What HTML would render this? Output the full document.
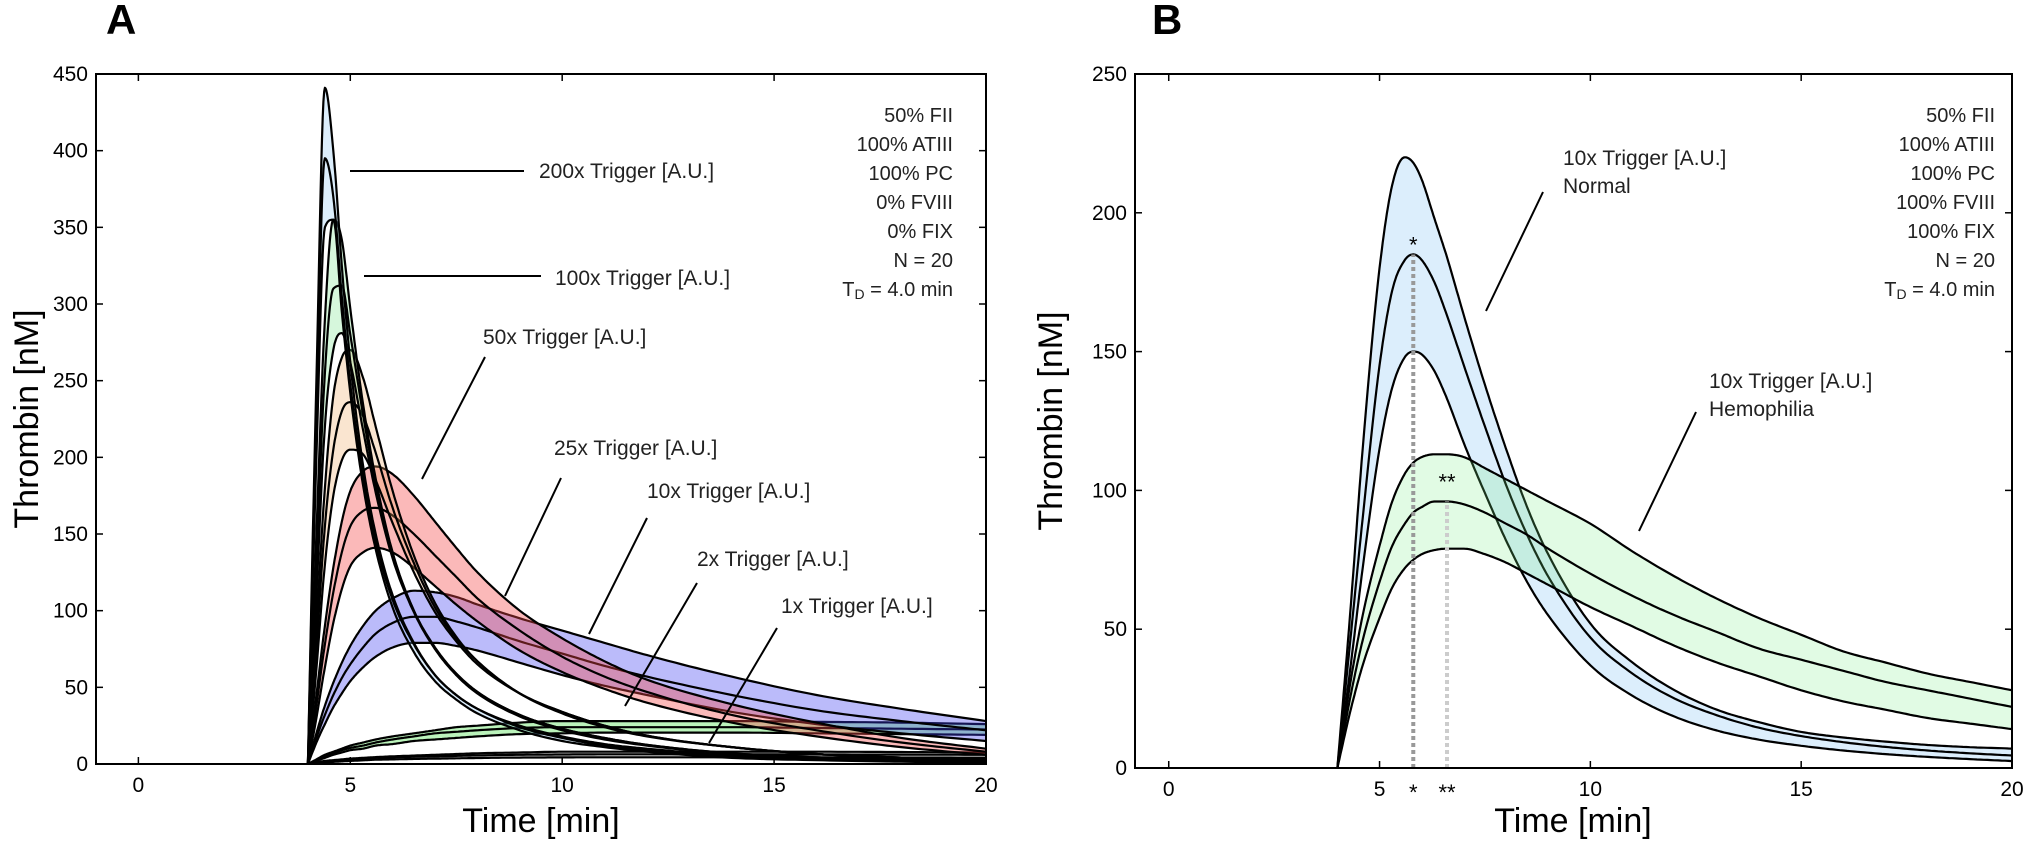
<!DOCTYPE html>
<html><head><meta charset="utf-8">
<style>
html,body{margin:0;padding:0;background:#fff;}
svg{display:block;font-family:"Liberation Sans","DejaVu Sans",sans-serif;}
</style></head>
<body>
<svg id="fig" width="2030" height="844" viewBox="0 0 2030 844" xmlns="http://www.w3.org/2000/svg"></svg>
<script>
// ---------- Panel A data ----------
const timeA = [4,4.2,4.4,4.6,4.8,5,5.3,5.6,6,6.5,7,7.5,8,9,10,11,12,14,16,18,20];
const a200hi = [0,250,441,400,325,262,195,150,110,79,58,45,36,24,17,12,9,5,3,2,1.2];
const a200mid= [0,230,395,370,305,248,188,145,107,78,58,45,36,25,18,13,10,5.5,3.5,2.3,1.5];
const a200lo = [0,200,350,355,295,242,182,140,102,73,54,42,33,22,15,11,8,4,2.5,1.5,1];
const a100hi = [0,150,290,355,342,297,235,186,138,100,75,58,46,31,22,16,12,6.5,4,2.5,1.8];
const a100mid= [0,130,255,310,312,280,228,182,137,100,76,59,47,32,23,17,12.5,7,4.3,2.8,2];
const a100lo = [0,110,220,270,281,262,218,177,134,99,75,59,47,32,23,17,12.5,7,4.3,2.7,1.9];
const a50hi  = [0,90,180,240,265,270,252,220,178,136,105,83,67,46,33,24,18,11,6.5,4.2,3];
const a50mid = [0,75,155,205,230,236,227,203,167,131,102,82,67,46,34,25,18.5,11,6.5,4.2,3];
const a50lo  = [0,62,130,175,198,205,202,185,157,125,99,80,65,46,34,25,18.5,11,6.5,4.2,3];
const a25hi  = [0,45,90,128,158,178,191,194,189,175,158,141,125,100,82,67,55,39,27,17,10];
const a25mid = [0,38,78,112,138,155,165,167,162,150,136,122,108,87,70,57,47,32,22,14,8];
const a25lo  = [0,30,63,92,114,129,138,141,138,128,116,104,93,74,60,49,40,27,18,11,6];
const a10hi  = [0,20,38,53,66,77,90,100,108,113,112,109,104,95,87,79,71,57,45,36,28];
const a10mid = [0,17,32,45,56,65,76,85,92,96,96,93,89,80,72,64,57,45,35,28,22];
const a10lo  = [0,14,26,37,46,54,63,70,76,79,79,77,74,66,58,51,45,34,26,20,15];
const a2hi   = [0,3,6,8,10,12,14,16,18,20,22,24,25,27,28,28,28,28,27.5,27,26];
const a2mid  = [0,2.5,5,7,9,10.5,12,14,16,18,20,21,22,23.5,24,24,24,24,23.5,23,22.5];
const a2lo   = [0,2,4,6,7.5,9,10,12,13,15,16,17,18,19.5,20,20.5,20.5,20.5,20,19.5,19];
const a1hi   = [0,1,2,2.5,3,3.5,4,4.5,5,5.5,6,6.5,7,7.5,8,8,8,8,8,7.8,7.5];
const a1mid  = [0,0.8,1.5,2,2.5,3,3.5,4,4.3,4.7,5,5.3,5.6,6,6.2,6.3,6.3,6.3,6.2,6.1,6];
const a1lo   = [0,0.5,1,1.4,1.7,2,2.4,2.8,3,3.3,3.5,3.7,3.9,4.2,4.3,4.4,4.4,4.4,4.3,4.2,4.1];
// ---------- Panel B data ----------
const timeB = [4,4.3,4.6,5,5.3,5.6,5.8,6,6.3,6.6,7,7.5,8,8.5,9,10,11,12,13,14,15,16,17,18,19,20];
const bNormHi  = [0,55,115,180,210,220,218,212,198,184,163,138,115,94,77,52,38,28,21,16.5,13,11,9.5,8.3,7.5,7];
const bNormMid = [0,45,90,145,172,183,185,183,175,163,145,123,102,84,69,47,34,25,19,14.5,11.5,9.3,7.6,6.3,5.3,4.5];
const bNormLo  = [0,35,72,115,137,148,150,149,143,133,117,99,82,67,55,37,26,18.5,13.5,10.2,8,6.3,5,4,3.2,2.5];
const bHemoHi  = [0,30,55,80,96,106,110,112,113,113,112,108,104,100,96,88,78,69,61,54,48,42,38,34,31,28];
const bHemoMid = [0,25,46,67,80,88,92,94,96,96,95,92,88,84,79,70,62,55,49,43,39,35,31,28,25,22];
const bHemoLo  = [0,20,37,54,65,72,75,77,78.5,79,79,77,74,70,66,58,51,44,38,33,28,24,21,18,16,14];
const bMarkTimes = [5.8, 6.6];
const bMarkValues = [185, 96];
const xTicks = [0,5,10,15,20];
const yTicksA = [0,50,100,150,200,250,300,350,400,450];
const yTicksB = [0,50,100,150,200,250];

const NS="http://www.w3.org/2000/svg";
const svg=document.getElementById('fig');
function mk(tag,attrs,parent){const e=document.createElementNS(NS,tag);for(const k in attrs)e.setAttribute(k,attrs[k]);(parent||svg).appendChild(e);return e;}

function monotone(xs,ys){
  const n=xs.length,d=[],m=new Array(n);
  for(let i=0;i<n-1;i++)d.push((ys[i+1]-ys[i])/(xs[i+1]-xs[i]));
  m[0]=d[0];m[n-1]=d[n-2];
  for(let i=1;i<n-1;i++){m[i]=(d[i-1]*d[i]<=0)?0:(d[i-1]+d[i])/2;}
  for(let i=0;i<n-1;i++){if(d[i]===0){m[i]=0;m[i+1]=0;continue;}
    const a=m[i]/d[i],b=m[i+1]/d[i],s=a*a+b*b;if(s>9){const t=3/Math.sqrt(s);m[i]=t*a*d[i];m[i+1]=t*b*d[i];}}
  const out=[];
  for(let i=0;i<n-1;i++){const h=xs[i+1]-xs[i];
    for(let k=0;k<12;k++){const t=k/12,t2=t*t,t3=t2*t;
      const y=(2*t3-3*t2+1)*ys[i]+(t3-2*t2+t)*h*m[i]+(-2*t3+3*t2)*ys[i+1]+(t3-t2)*h*m[i+1];
      out.push([xs[i]+t*h,y]);}}
  out.push([xs[n-1],ys[n-1]]);
  return out;
}

function panel(cfg){
  const {L,R,T,B,xmin,xmax,ymax,id}=cfg;
  const sx=v=>L+(v-xmin)/(xmax-xmin)*(R-L);
  const sy=v=>B-v/ymax*(B-T);
  const clip=mk('clipPath',{id:'clip'+id});
  mk('rect',{x:L,y:T,width:R-L,height:B-T},clip);
  const g=mk('g',{'clip-path':'url(#clip'+id+')'});
  
  
  const base=mk('line',{x1:sx(xmin),y1:sy(0),x2:sx(4),y2:sy(0),stroke:'#000','stroke-width':2},g);
  
  
  return {sx,sy,g,cfg};
}

function band(p,ts,hi,mid,lo,fill,name){
  const {sx,sy,g}=p;
  const H=monotone(ts,hi),M=monotone(ts,mid),Lo=monotone(ts,lo);
  let d='M'+H.map(q=>sx(q[0]).toFixed(1)+','+sy(q[1]).toFixed(1)).join('L');
  d+='L'+Lo.slice().reverse().map(q=>sx(q[0]).toFixed(1)+','+sy(q[1]).toFixed(1)).join('L')+'Z';
  const f=mk('path',{d:d,fill:fill,stroke:'none'},g);
  
  
  [[H,'hi'],[M,'mid'],[Lo,'lo']].forEach(([P,k])=>{
    const l=mk('path',{d:'M'+P.map(q=>sx(q[0]).toFixed(1)+','+sy(q[1]).toFixed(1)).join('L'),fill:'none',stroke:'#000','stroke-width':2.2,'stroke-linejoin':'round'},g);
    
    
  });
}

function axes(p,yTicks,title,tx,ylabX,xlabX){
  const {sx,sy,cfg}=p;const {L,R,T,B,id}=cfg;
  const fr=mk('rect',{x:L,y:T,width:R-L,height:B-T,fill:'none',stroke:'#000','stroke-width':2});
  
  
  xTicks.forEach(v=>{const x=sx(v);
    mk('line',{x1:x,y1:B,x2:x,y2:B-7,stroke:'#000','stroke-width':1.5});
    mk('line',{x1:x,y1:T,x2:x,y2:T+7,stroke:'#000','stroke-width':1.5});
    const t=mk('text',{x:x,y:B+28,'text-anchor':'middle','font-size':21});t.textContent=v;
    
    
  });
  yTicks.forEach(v=>{const y=sy(v);
    mk('line',{x1:L,y1:y,x2:L+7,y2:y,stroke:'#000','stroke-width':1.5});
    mk('line',{x1:R,y1:y,x2:R-7,y2:y,stroke:'#000','stroke-width':1.5});
    const t=mk('text',{x:L-8,y:y+7,'text-anchor':'end','font-size':21});t.textContent=v;
    
    
  });
  const yl=mk('text',{x:0,y:0,'text-anchor':'middle','font-size':34,transform:`translate(${ylabX},${(T+B)/2}) rotate(-90)`});
  yl.textContent='Thrombin [nM]';
  
  
  const xl=mk('text',{x:xlabX,y:832,'text-anchor':'middle','font-size':34});
  xl.textContent='Time [min]';
  
  
  const ti=mk('text',{x:tx,y:34,'font-size':42,'font-weight':'bold'});
  ti.textContent=title;
  
  
}

function info(lines,x){
  lines.forEach((s,i)=>{
    const t=mk('text',{x:x,y:122+i*29,'text-anchor':'end','font-size':20,fill:'#222'});
    if(s==='TD'){t.innerHTML='T<tspan font-size="14" dy="3">D</tspan><tspan dy="-3"> = 4.0 min</tspan>';}
    else t.textContent=s;
    
    
  });
}
function note(x,y,txt){const t=mk('text',{x:x,y:y,'font-size':21,fill:'#222'});t.textContent=txt;
  
  }
function ptr(x1,y1,x2,y2){const l=mk('line',{x1,y1,x2,y2,stroke:'#000','stroke-width':2});
  
  }

// Panel A
const pA=panel({L:96,R:986,T:74,B:764,xmin:-1,xmax:20,ymax:450,id:'a'});
band(pA,timeA,a1hi,a1mid,a1lo,'rgba(150,150,150,0.25)','trigger-1x');
band(pA,timeA,a2hi,a2mid,a2lo,'rgba(60,220,60,0.35)','trigger-2x');
band(pA,timeA,a10hi,a10mid,a10lo,'rgba(60,60,240,0.35)','trigger-10x');
band(pA,timeA,a25hi,a25mid,a25lo,'rgba(245,70,70,0.38)','trigger-25x');
band(pA,timeA,a50hi,a50mid,a50lo,'rgba(240,170,100,0.3)','trigger-50x');
band(pA,timeA,a100hi,a100mid,a100lo,'rgba(120,230,140,0.3)','trigger-100x');
band(pA,timeA,a200hi,a200mid,a200lo,'rgba(140,200,245,0.3)','trigger-200x');
axes(pA,yTicksA,'A',106,38,541);
info(['50% FII','100% ATIII','100% PC','0% FVIII','0% FIX','N = 20','TD'],953);
note(539,178,'200x Trigger [A.U.]');ptr(350,171,524,171);
note(555,285,'100x Trigger [A.U.]');ptr(364,276,541,276);
note(483,344,'50x Trigger [A.U.]');ptr(485,357,422,479);
note(554,455,'25x Trigger [A.U.]');ptr(561,478,505,596);
note(647,498,'10x Trigger [A.U.]');ptr(647,518,589,634);
note(697,566,'2x Trigger [A.U.]');ptr(697,583,625,706);
note(781,613,'1x Trigger [A.U.]');ptr(777,628,709,743);

// Panel B
const pB=panel({L:1135,R:2012,T:74,B:768,xmin:-0.8,xmax:20,ymax:250,id:'b'});
band(pB,timeB,bNormHi,bNormMid,bNormLo,'rgba(140,200,245,0.3)','normal');
band(pB,timeB,bHemoHi,bHemoMid,bHemoLo,'rgba(120,235,130,0.22)','hemophilia');
const markColors=['#999','#ccc'];
const markLabels=['*','**'];
bMarkTimes.forEach((t,i)=>{
  const x=pB.sx(t);
  const l=mk('line',{x1:x,y1:pB.sy(0),x2:x,y2:pB.sy(bMarkValues[i]),stroke:markColors[i],'stroke-width':4,'stroke-dasharray':'4,3'});
  
  
  const s=mk('text',{x:x,y:pB.sy(bMarkValues[i])-2+(i?-10:0),'text-anchor':'middle','font-size':22});
  s.textContent=markLabels[i];
  
  
  const s2=mk('text',{x:x,y:800,'text-anchor':'middle','font-size':22});
  s2.textContent=markLabels[i];
  
  
});
axes(pB,yTicksB,'B',1152,1062,1573);
info(['50% FII','100% ATIII','100% PC','100% FVIII','100% FIX','N = 20','TD'],1995);
note(1563,165,'10x Trigger [A.U.]');note(1563,193,'Normal');ptr(1543,192,1486,311);
note(1709,388,'10x Trigger [A.U.]');note(1709,416,'Hemophilia');ptr(1696,412,1639,531);
</script>
</body></html>
